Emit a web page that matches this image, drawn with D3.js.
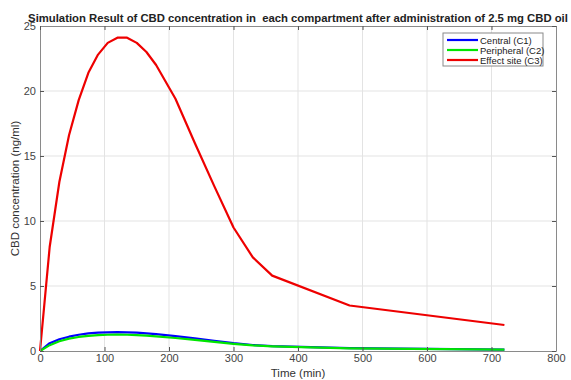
<!DOCTYPE html>
<html>
<head>
<meta charset="utf-8">
<script src="https://cdn.jsdelivr.net/npm/d3@7"></script>
<style>
  body { margin: 0; background: #fff; }
  text { font-family: "Liberation Sans", Arial, sans-serif; }
</style>
</head>
<body>
<script>
// Data (time in minutes, concentration in ng/ml)
var times = [0, 15, 30, 45, 60, 75, 90, 105, 120, 135, 150, 165, 180, 210, 240, 270, 300, 330, 360, 480, 720];
var central = [0, 0.6, 0.9, 1.1, 1.25, 1.35, 1.41, 1.44, 1.45, 1.44, 1.41, 1.36, 1.3, 1.15, 0.97, 0.78, 0.6, 0.46, 0.38, 0.22, 0.1];
var peripheral = [0, 0.45, 0.75, 0.95, 1.08, 1.17, 1.22, 1.25, 1.26, 1.25, 1.22, 1.18, 1.13, 1.0, 0.85, 0.7, 0.55, 0.43, 0.36, 0.2, 0.1];
var effect = [0, 8, 13, 16.6, 19.3, 21.4, 22.8, 23.7, 24.1, 24.1, 23.7, 23.0, 22.0, 19.4, 16.0, 12.7, 9.5, 7.2, 5.8, 3.5, 2.0];
var seriesNames = ['Central (C1)', 'Peripheral (C2)', 'Effect site (C3)'];
var seriesColors = ['#0000ff', '#00e600', '#ee0000'];
var xTicks = [0, 100, 200, 300, 400, 500, 600, 700, 800];
var yTicks = [0, 5, 10, 15, 20, 25];

var W = 571, H = 380;
var margin = { top: 26, right: 15, bottom: 29, left: 40 };
var width = W - margin.left - margin.right,
	height = H - margin.top - margin.bottom;

var x = d3.scaleLinear().domain([0, 800]).range([0, width]);
var y = d3.scaleLinear().domain([0, 25]).range([height, 0]);

var svg = d3.select('body').append('svg')
	.attr('width', W).attr('height', H);

var g = svg.append('g')
	.attr('transform', 'translate(' + margin.left + ',' + margin.top + ')');

// grid
g.append('g').selectAll('line').data(xTicks.slice(1, -1)).enter().append('line')
	.attr('x1', d => x(d)).attr('x2', d => x(d))
	.attr('y1', 0).attr('y2', height)
	.attr('stroke', '#e3e3e3').attr('stroke-width', 1);
g.append('g').selectAll('line').data(yTicks.slice(1, -1)).enter().append('line')
	.attr('y1', d => y(d)).attr('y2', d => y(d))
	.attr('x1', 0).attr('x2', width)
	.attr('stroke', '#e3e3e3').attr('stroke-width', 1);

// lines
var data = [central, peripheral, effect];
var line = d3.line().x((d, i) => x(times[i])).y(d => y(d));
g.append('g').selectAll('path').data(data).enter().append('path')
	.attr('d', d => line(d))
	.attr('fill', 'none')
	.attr('stroke', (d, i) => seriesColors[i])
	.attr('stroke-width', 2.2)
	.attr('stroke-linejoin', 'round');

// axes (MATLAB style: inward ticks, box)
g.append('g').attr('transform', 'translate(0,' + height + ')')
	.call(d3.axisBottom(x).tickValues(xTicks).tickSizeInner(-4).tickSizeOuter(0).tickPadding(3));
g.append('g')
	.call(d3.axisLeft(y).tickValues(yTicks).tickSizeInner(-4).tickSizeOuter(0).tickPadding(4));
g.append('g')
	.call(d3.axisTop(x).tickValues(xTicks).tickSizeInner(-4).tickSizeOuter(0).tickFormat(''));
g.append('g').attr('transform', 'translate(' + width + ',0)')
	.call(d3.axisRight(y).tickValues(yTicks).tickSizeInner(-4).tickSizeOuter(0).tickFormat(''));

svg.selectAll('.domain').attr('stroke', '#8a8a8a');
svg.selectAll('.tick line').attr('stroke', '#555');
svg.selectAll('.tick text')
	.style('font-family', '"Liberation Sans", Arial, sans-serif')
	.style('font-size', '11px')
	.attr('fill', '#444');

// axis labels
svg.append('text')
	.attr('x', margin.left + width / 2).attr('y', 377)
	.attr('text-anchor', 'middle')
	.style('font-size', '11.5px').attr('fill', '#333')
	.text('Time (min)');
svg.append('text')
	.attr('transform', 'rotate(-90)')
	.attr('x', -(margin.top + height / 2)).attr('y', 19)
	.attr('text-anchor', 'middle')
	.style('font-size', '11.5px').attr('fill', '#333')
	.text('CBD concentration (ng/ml)');

// title
var title = svg.append('text')
	.attr('x', margin.left + width / 2).attr('y', 22)
	.attr('text-anchor', 'middle')
	.style('font-size', '12px').style('font-weight', 'bold').attr('fill', '#222')
	.attr('xml:space', 'preserve')
	.style('white-space', 'pre')
	.text('Simulation Result of CBD concentration in  each compartment after administration of 2.5 mg CBD oil');
var tl = title.node().getComputedTextLength();
title.style('font-size', (12 * 540 / tl) + 'px');

// legend
var lg = svg.append('g').attr('transform', 'translate(443,33)');
lg.append('rect').attr('width', 100).attr('height', 33)
	.attr('fill', '#fff').attr('stroke', '#8a8a8a').attr('stroke-width', 1);
var items = lg.selectAll('g').data(seriesNames).enter().append('g')
	.attr('transform', (d, i) => 'translate(0,' + (7 + i * 10) + ')');
items.append('line').attr('x1', 4).attr('x2', 35).attr('y1', 0).attr('y2', 0)
	.attr('stroke', (d, i) => seriesColors[i]).attr('stroke-width', 2.2);
items.append('text').attr('x', 37).attr('y', 3.5)
	.style('font-size', '9.5px').attr('fill', '#222')
	.text(d => d);
</script>
</body>
</html>
